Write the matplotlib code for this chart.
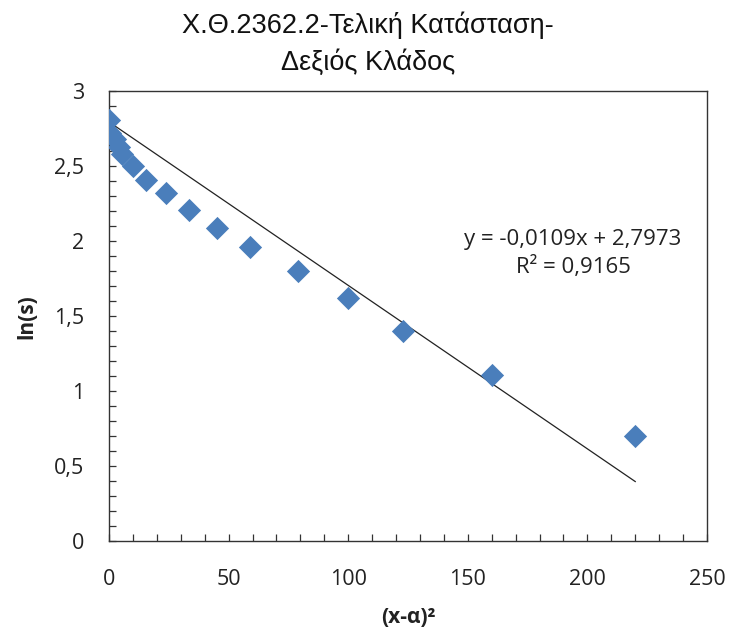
import matplotlib
matplotlib.use("Agg")
import matplotlib.pyplot as plt
from matplotlib.ticker import MultipleLocator, FuncFormatter
import numpy as np

# Measurements: squared distance from the axis and log of the deviation
dist_sq = [0.0, 0.3, 2.5, 4.0, 5.5, 10.0, 15.5, 24.0, 33.5, 45.0,
           59.0, 79.0, 100.0, 123.0, 160.0, 220.0]
ln_s = [2.81, 2.72, 2.68, 2.63, 2.58, 2.50, 2.41, 2.32, 2.21, 2.09,
        1.96, 1.80, 1.62, 1.40, 1.11, 0.70]

# Linear trendline coefficients
slope = -0.0109
intercept = 2.7973
r_squared = 0.9165

title = "Χ.Θ.2362.2-Τελική Κατάσταση-\nΔεξιός Κλάδος"
x_label = "(x-α)²"
y_label = "ln(s)"

tick_font = "Open Sans"


def dec(v, fmt="%g"):
    return (fmt % v).replace(".", ",")


fig = plt.figure(figsize=(7.30, 6.34), dpi=100)
ax = fig.add_axes([0.1493, 0.146, 0.8192, 0.7097])

ax.scatter(dist_sq, ln_s, marker="D", s=140, color="#4A7EBB", linewidths=0, zorder=3)

xs = np.array([0.0, max(dist_sq)])
ax.plot(xs, slope * xs + intercept, color="#222222", lw=0.9, zorder=2)

ax.set_xlim(0, 250)
ax.set_ylim(0, 3)
ax.xaxis.set_major_locator(MultipleLocator(50))
ax.xaxis.set_minor_locator(MultipleLocator(10))
ax.yaxis.set_major_locator(MultipleLocator(0.5))
ax.yaxis.set_minor_locator(MultipleLocator(0.1))

comma = FuncFormatter(lambda v, p: dec(v))
ax.xaxis.set_major_formatter(comma)
ax.yaxis.set_major_formatter(comma)

ax.tick_params(which="both", direction="in", length=5, width=0.9, color="#333333")
ax.tick_params(which="major", labelsize=15.5, labelcolor="#222222")
ax.tick_params(axis="y", which="major", pad=18)
ax.tick_params(axis="x", which="major", pad=20)
for lab in ax.get_xticklabels() + ax.get_yticklabels():
    lab.set_fontfamily(tick_font)

for sp in ax.spines.values():
    sp.set_linewidth(1.0)
    sp.set_color("#333333")

fig.text(0.504, 0.982, title, ha="center", va="top", fontsize=19.5,
         family="Liberation Sans", linespacing=1.5, color="#111111")

ax.set_xlabel(x_label, fontsize=15, fontweight="bold", family=tick_font,
              labelpad=12, color="#222222")
ax.set_ylabel(y_label, fontsize=15, fontweight="bold", family=tick_font,
              labelpad=12, color="#222222")

eq = f"y = {dec(slope, '%.4f')}x + {dec(intercept, '%.4f')}\nR² = {dec(r_squared, '%.4f')}"
ax.text(194, 1.92, eq, ha="center", va="center", fontsize=16, family=tick_font,
        linespacing=1.35, color="#222222")

fig.savefig("out.png", dpi=100)
